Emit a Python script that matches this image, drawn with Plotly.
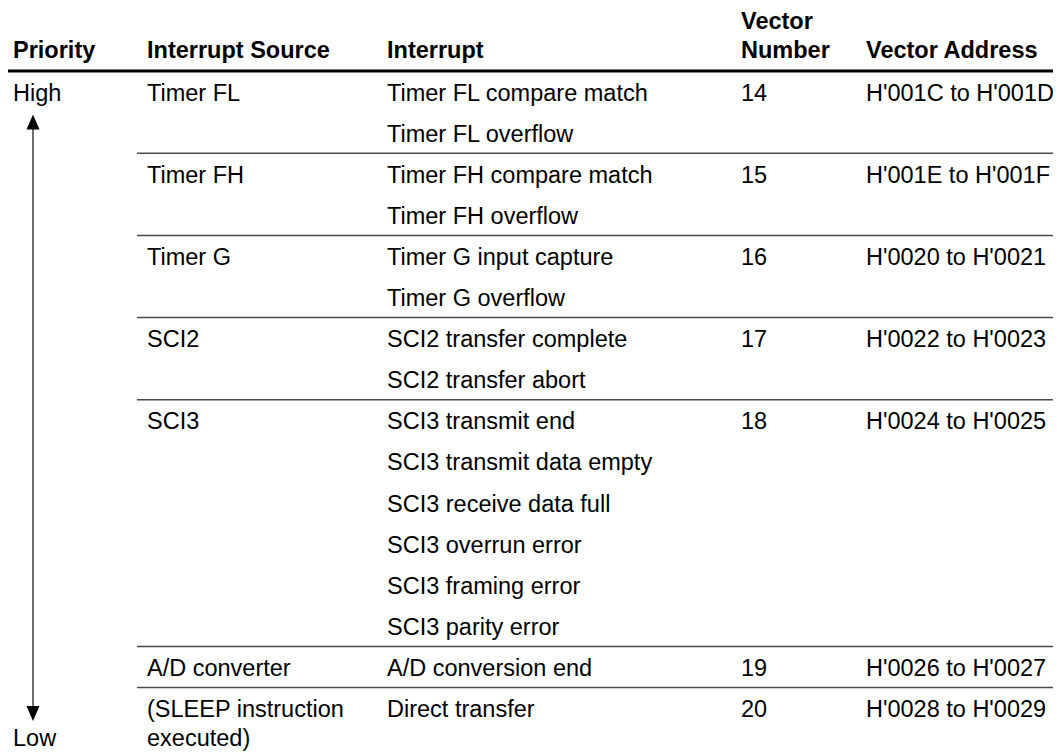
import plotly.graph_objects as go

# ---------------- data ----------------
headers = ["Priority", "Interrupt Source", "Interrupt", "Vector<br>Number", "Vector Address"]
priority_high = "High"
priority_low = "Low"
sources = ["Timer FL", "Timer FH", "Timer G", "SCI2", "SCI3", "A/D converter",
           "(SLEEP instruction<br>executed)"]
interrupts = [
    ["Timer FL compare match", "Timer FL overflow"],
    ["Timer FH compare match", "Timer FH overflow"],
    ["Timer G input capture", "Timer G overflow"],
    ["SCI2 transfer complete", "SCI2 transfer abort"],
    ["SCI3 transmit end", "SCI3 transmit data empty", "SCI3 receive data full",
     "SCI3 overrun error", "SCI3 framing error", "SCI3 parity error"],
    ["A/D conversion end"],
    ["Direct transfer"],
]
vector_numbers = ["14", "15", "16", "17", "18", "19", "20"]
vector_addresses = ["H'001C to H'001D", "H'001E to H'001F", "H'0020 to H'0021",
                    "H'0022 to H'0023", "H'0024 to H'0025", "H'0026 to H'0027",
                    "H'0028 to H'0029"]

# ---------------- layout geometry ----------------
W, H = 1061, 754
OFF = 8  # page body margin; figure is placed at (8, 8)
FONT = "Liberation Sans, Arial, Helvetica, sans-serif"
FS = 23.5
col_x = [12, 146, 386, 740, 865]
header_y = 49.5
header_line_gap = 28.5
header_line_y = 71
pitch = 41.1
text_off = 21.5
wrap_gap = 29
sep_x0 = 137

fig = go.Figure()
fig.update_xaxes(range=[OFF, W], visible=False, fixedrange=True)
fig.update_yaxes(range=[H, OFF], visible=False, fixedrange=True)

ann = []
shapes = []

def add_text(x, y, t, bold=False):
    ann.append(dict(x=x, y=y, xref="x", yref="y", text=("<b>%s</b>" % t) if bold else t,
                    showarrow=False, xanchor="left", yanchor="middle", align="left",
                    font=dict(family=FONT, size=FS, color="#000000"), borderpad=0))

def add_lines(x, y_last, t, gap, bold=False):
    parts = t.split("<br>")
    for j, p in enumerate(parts):
        add_text(x, y_last - (len(parts) - 1 - j) * gap, p, bold)

def add_lines_down(x, y_first, t, gap):
    parts = t.split("<br>")
    for j, p in enumerate(parts):
        add_text(x, y_first + j * gap, p)
    return y_first + (len(parts) - 1) * gap

# headers (bottom-aligned on one baseline)
for i, h in enumerate(headers):
    add_lines(col_x[i], header_y, h, header_line_gap, bold=True)

shapes.append(dict(type="line", xref="x", yref="y", x0=3, x1=W, y0=header_line_y, y1=header_line_y,
                   line=dict(color="#000000", width=3)))

# body rows
y_top = header_line_y
last_text_y = None
for g, src in enumerate(sources):
    n = len(interrupts[g])
    first_y = y_top + text_off
    last_text_y = add_lines_down(col_x[1], first_y, src, wrap_gap)
    for k, it in enumerate(interrupts[g]):
        add_text(col_x[2], first_y + k * pitch, it)
    add_text(col_x[3], first_y, vector_numbers[g])
    add_text(col_x[4], first_y, vector_addresses[g])
    y_top = y_top + n * pitch
    if g < len(sources) - 1:
        shapes.append(dict(type="line", xref="x", yref="y", x0=sep_x0, x1=W, y0=y_top, y1=y_top,
                           line=dict(color="#4a4a4a", width=1.5)))

high_y = header_line_y + text_off
low_y = last_text_y
add_text(col_x[0], high_y, priority_high)
add_text(col_x[0], low_y, priority_low)

# priority arrow
ax = 33
tip_top = high_y + 22
tip_bot = low_y - 17
hl, hw = 15, 6.5
shapes.append(dict(type="line", xref="x", yref="y", x0=ax, x1=ax, y0=tip_top + hl - 1, y1=tip_bot - hl + 1,
                   line=dict(color="#222222", width=1.3)))
shapes.append(dict(type="path", xref="x", yref="y",
                   path="M %g %g L %g %g L %g %g Z" % (ax, tip_top, ax - hw, tip_top + hl, ax + hw, tip_top + hl),
                   fillcolor="#000000", line=dict(width=0)))
shapes.append(dict(type="path", xref="x", yref="y",
                   path="M %g %g L %g %g L %g %g Z" % (ax, tip_bot, ax - hw, tip_bot - hl, ax + hw, tip_bot - hl),
                   fillcolor="#000000", line=dict(width=0)))

fig.update_layout(width=W - OFF, height=H - OFF, margin=dict(l=0, r=0, t=0, b=0),
                  paper_bgcolor="white", plot_bgcolor="white",
                  annotations=ann, shapes=shapes, showlegend=False)

fig.write_html("out.html", config={"displayModeBar": False})
